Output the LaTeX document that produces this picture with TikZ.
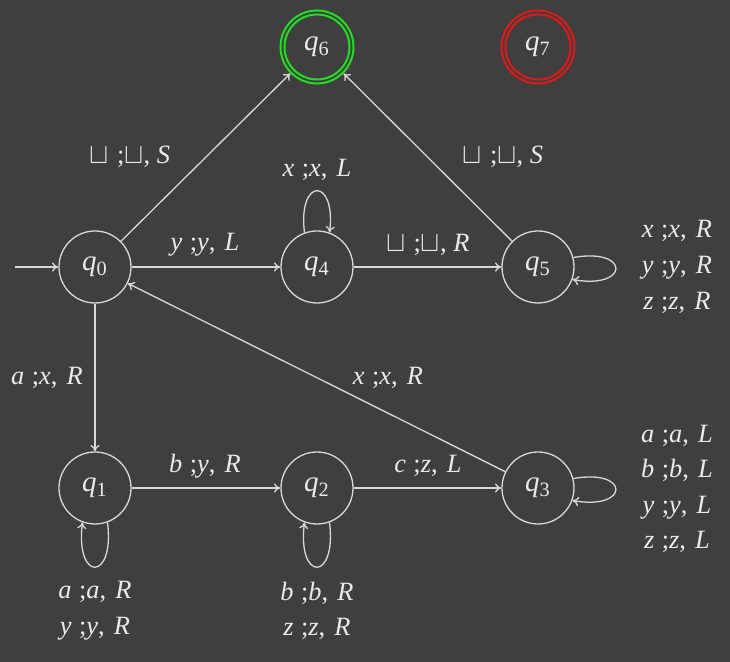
\documentclass[tikz,border=0pt]{standalone}
\usepackage{fontspec}
\setmainfont{Liberation Serif}
\usetikzlibrary{arrows.meta}
\definecolor{bg}{HTML}{3F3F3F}
\definecolor{ln}{HTML}{D8D8D8}
\definecolor{txt}{HTML}{EAEAEA}
\definecolor{grn}{HTML}{22DD22}
\definecolor{rd}{HTML}{E01818}
\newcommand{\tr}[3]{\textit{#1}\hspace{0.28em};\textit{#2},\hspace{0.35em}\textit{#3}}
\newcommand{\bl}{\scalebox{1.2}{$\sqcup$}}
\newcommand{\qs}[1]{\textit{q}\textsubscript{#1}}
\begin{document}
\begin{tikzpicture}[x=0.5pt,y=0.5pt,
  every node/.style={text=txt},
  st/.style={circle,draw=ln,line width=0.65pt,minimum size=36pt,inner sep=0pt,font=\fontsize{14.5}{16}\selectfont},
  acc/.style={st,line width=1pt,minimum size=36.5pt},
  edge/.style={draw=ln,line width=0.65pt,-{To[length=3.2pt,width=4.6pt]}},
  lab/.style={font=\fontsize{13.2}{17.8}\selectfont,align=center,inner sep=0pt}]
\fill[bg] (0,0) rectangle (730,662);
\useasboundingbox (0,0) rectangle (730,662);
% states
\node[st] (q0) at (95,395) {\qs{0}};
\node[st] (q4) at (317,395) {\qs{4}};
\node[st] (q5) at (538,395) {\qs{5}};
\node[st] (q1) at (95,174) {\qs{1}};
\node[st] (q2) at (317,174) {\qs{2}};
\node[st] (q3) at (538,174) {\qs{3}};
\node[acc,draw=grn] (q6) at (317,615) {\qs{6}};
\node[acc,draw=rd] (q7) at (538,615) {\qs{7}};
\draw[grn,line width=1pt] (q6.center) circle[radius=16.25pt];
\draw[rd,line width=1pt] (q7.center) circle[radius=16.25pt];
\coordinate (init) at (15,395);
% edges
\draw[edge] (init) -- (q0);
\draw[edge] (q0) -- (q6);
\draw[edge] (q0) -- (q4);
\draw[edge] (q4) -- (q5);
\draw[edge] (q5) -- (q6);
\draw[edge] (q0) -- (q1);
\draw[edge] (q1) -- (q2);
\draw[edge] (q2) -- (q3);
\draw[edge] (q3) -- (q0);
% loops
\draw[edge] (q4.110) .. controls +(97:56) and +(83:56) .. (q4.70);
\draw[edge] (q1.290) .. controls +(277:60) and +(263:60) .. (q1.250);
\draw[edge] (q2.290) .. controls +(277:60) and +(263:60) .. (q2.250);
\draw[edge] (q5.15) .. controls +(10:58) and +(-10:58) .. (q5.-20);
\draw[edge] (q3.15) .. controls +(10:58) and +(-10:58) .. (q3.-20);
% labels
\node[lab] (l06) at (130,505) {\bl\hspace{0.3em};\bl, \textit{S}};
\node[lab] (l04) at (205,417) {\tr{y}{y}{L}};
\node[lab] (l44) at (317,492) {\tr{x}{x}{L}};
\node[lab] (l45) at (428,417) {\bl\hspace{0.3em};\bl, \textit{R}};
\node[lab] (l56) at (503,505) {\bl\hspace{0.3em};\bl, \textit{S}};
\node[lab] (l55) at (677,395) {\tr{x}{x}{R}\\\tr{y}{y}{R}\\\tr{z}{z}{R}};
\node[lab] (l01) at (47,284) {\tr{a}{x}{R}};
\node[lab] (l30) at (388,284) {\tr{x}{x}{R}};
\node[lab] (l12) at (205,196) {\tr{b}{y}{R}};
\node[lab] (l23) at (428,196) {\tr{c}{z}{L}};
\node[lab] (l11) at (95,51) {\tr{a}{a}{R}\\\tr{y}{y}{R}};
\node[lab] (l22) at (317,51) {\tr{b}{b}{R}\\\tr{z}{z}{R}};
\node[lab] (l33) at (677,173) {\tr{a}{a}{L}\\\tr{b}{b}{L}\\\tr{y}{y}{L}\\\tr{z}{z}{L}};
\end{tikzpicture}
\end{document}
